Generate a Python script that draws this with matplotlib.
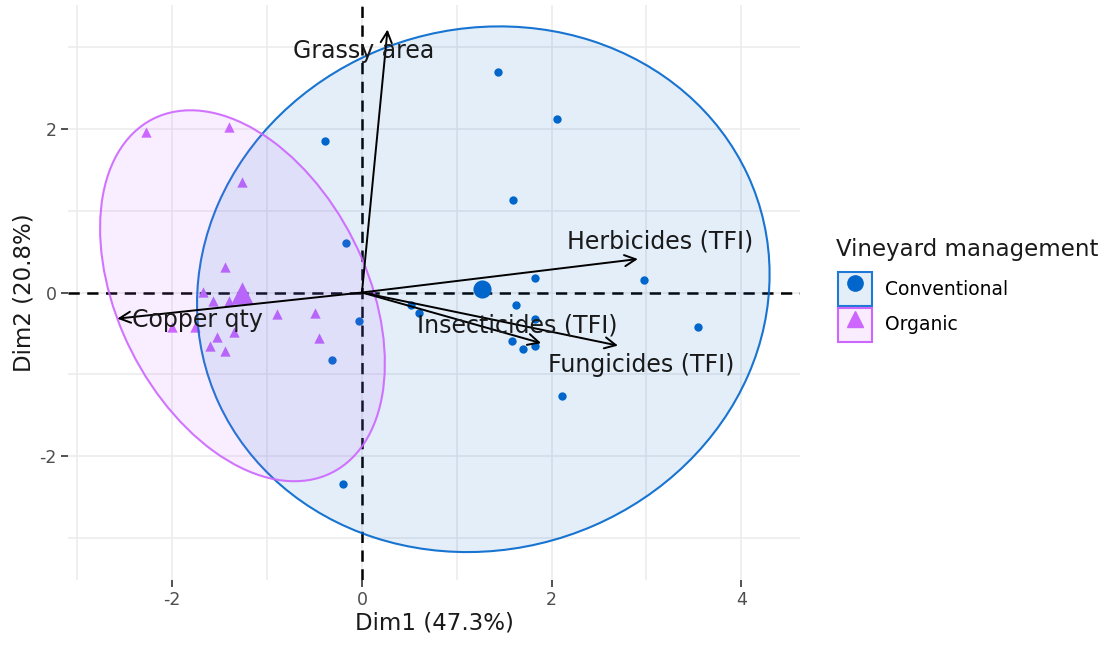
import matplotlib
matplotlib.use("Agg")
import matplotlib.pyplot as plt
from matplotlib.patches import Ellipse, Patch
from matplotlib.lines import Line2D

plt.rcParams["axes.unicode_minus"] = False

# individuals
conv_x = [1.44, 2.06, -0.39, 1.59, -0.17, 1.82, 2.97, 1.63, 0.52, 0.60, 1.82,
          1.58, 1.70, 1.82, 3.54, 2.11, -0.03, -0.32, -0.20]
conv_y = [2.70, 2.12, 1.85, 1.13, 0.60, 0.18, 0.15, -0.15, -0.15, -0.25, -0.32,
          -0.59, -0.69, -0.65, -0.42, -1.27, -0.35, -0.83, -2.35]
org_x = [-2.28, -1.40, -1.26, -1.44, -1.68, -1.57, -1.40, -0.90, -2.00, -1.76,
         -1.35, -1.53, -1.60, -1.44, -0.49, -0.45]
org_y = [1.97, 2.03, 1.35, 0.31, 0.01, -0.11, -0.11, -0.26, -0.42, -0.42,
         -0.48, -0.54, -0.66, -0.72, -0.25, -0.56]
conv_mean = (1.27, 0.04)
org_mean = (-1.26, 0.0)

# group ellipses: centre, width, height, angle (data units)
conv_ell = ((1.28, 0.04), 6.50, 5.97, 69.3)
org_ell = ((-1.26, -0.04), 4.74, 2.68, -69.7)

# variables
var_names = ["Grassy area", "Herbicides (TFI)", "Insecticides (TFI)",
             "Fungicides (TFI)", "Copper qty"]
var_x = [0.27, 2.91, 1.89, 2.70, -2.58]
var_y = [3.22, 0.41, -0.62, -0.65, -0.32]
label_offsets = [(-24, -21), (22, 18), (-24, 18), (23, -19), (80, -1)]

blue = "#0066CC"
purple = "#CC66FF"

fig = plt.figure(figsize=(11.07, 6.45), dpi=100)
ax = fig.add_axes([68 / 1107, 1 - 580 / 645, 732 / 1107, 575 / 645])

ax.set_xlim(-3.10, 4.62)
ax.set_ylim(-3.52, 3.52)
ax.set_xticks([-2, 0, 2, 4])
ax.set_yticks([-2, 0, 2])
ax.set_xticks([-3, -1, 1, 3], minor=True)
ax.set_yticks([-3, -1, 1, 3], minor=True)
ax.grid(True, which="both", color="#EBEBEB", lw=1.1)
ax.set_axisbelow(True)
for s in ax.spines.values():
    s.set_visible(False)
ax.tick_params(which="major", length=5, width=1.2, color="#333333",
               labelsize=12.5, labelcolor="#4D4D4D", pad=3)
ax.tick_params(which="minor", length=0)

ax.axhline(0, color="black", ls=(0, (4.5, 3)), lw=1.8, zorder=2)
ax.axvline(0, color="black", ls=(0, (4.5, 3)), lw=1.8, zorder=2)

ax.scatter(conv_x, conv_y, marker="o", s=36, color=blue, zorder=3, lw=0)
ax.scatter(org_x, org_y, marker="^", s=55, color=purple, zorder=3, lw=0)
ax.scatter(*conv_mean, marker="o", s=170, color=blue, zorder=3, lw=0)
ax.scatter(*org_mean, marker="^", s=260, color=purple, zorder=3, lw=0)

for (c, w, h, a), col in [(conv_ell, blue), (org_ell, purple)]:
    ax.add_patch(Ellipse(c, w, h, angle=a, facecolor=col, alpha=0.11,
                         edgecolor="none", zorder=4))
    ax.add_patch(Ellipse(c, w, h, angle=a, facecolor="none",
                         edgecolor=col, lw=1.5, alpha=0.9, zorder=4))

for name, vx, vy, off in zip(var_names, var_x, var_y, label_offsets):
    ax.annotate("", xy=(vx, vy), xytext=(0, 0),
                arrowprops=dict(arrowstyle="->", color="black", lw=1.4,
                                shrinkA=0, shrinkB=0, mutation_scale=20),
                zorder=5)
    ax.annotate(name, xy=(vx, vy), xytext=off, textcoords="offset pixels",
                ha="center", va="center", fontsize=17, color="#1A1A1A",
                zorder=6)

ax.set_xlabel("Dim1 (47.3%)", fontsize=16.5, color="#1A1A1A", labelpad=2)
ax.set_ylabel("Dim2 (20.8%)", fontsize=16.5, color="#1A1A1A", labelpad=3)

handles = [
    (Patch(facecolor="#E3EEF9", edgecolor="#1F7AD6", lw=1.5),
     Line2D([], [], marker="o", ls="", color=blue, markersize=11)),
    (Patch(facecolor="#F8ECFD", edgecolor=purple, lw=1.5),
     Line2D([], [], marker="^", ls="", color=purple, markersize=12)),
]
fig.text(836 / 1107, 1 - 249 / 645, "Vineyard management", fontsize=16.5,
         color="#1A1A1A", va="center", ha="left")
fig.legend(handles, ["Conventional", "Organic"], loc="upper left",
           bbox_to_anchor=(838 / 1107, 1 - 272 / 645), frameon=False,
           borderpad=0, borderaxespad=0, fontsize=13.5, handlelength=1.81,
           handleheight=2.4, handletextpad=0.7, labelspacing=0.1)

fig.savefig("out.png", dpi=100)
